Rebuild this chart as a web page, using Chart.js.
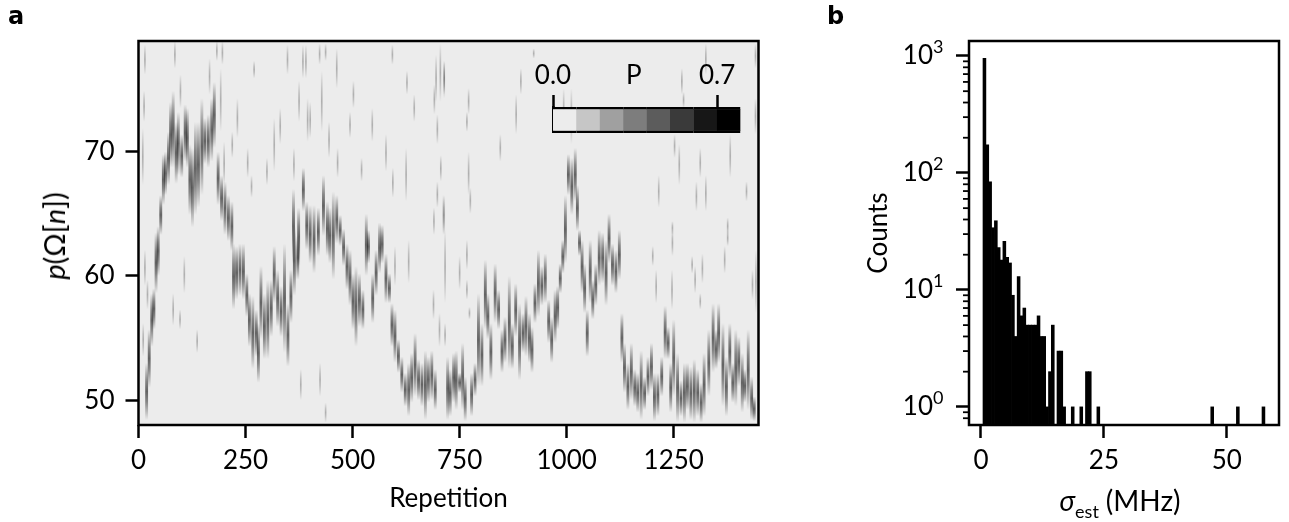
<!DOCTYPE html>
<html>
<head>
<meta charset="utf-8">
<script src="https://cdn.jsdelivr.net/npm/chart.js@4"></script>
<style>
  html, body { margin: 0; padding: 0; background: #fff; }
  body { width: 1289px; height: 522px; position: relative; overflow: hidden; font-family: Lato, sans-serif; color: #000; }
  canvas { position: absolute; }
  .label { position: absolute; white-space: nowrap; font-size: 28px; line-height: 30px; }
  .panel { font-family: "DejaVu Sans", sans-serif; font-weight: bold; font-size: 24px; }
  .label sub { font-size: 18px; line-height: 0; }
</style>
</head>
<body>
<canvas id="chartA" width="800" height="522" style="left:0;top:0"></canvas>
<canvas id="chartB" width="489" height="522" style="left:800px;top:0"></canvas>
<canvas id="chartBar" width="240" height="78" style="left:530px;top:55px"></canvas>
<div class="label panel" style="left:8px;top:1px">a</div>
<div class="label panel" style="left:827px;top:1px">b</div>
<div class="label" id="labelP" style="left:54px;top:236px;font-size:29px;transform:translate(-50%,-50%) rotate(-90deg)"><i>p</i>(Ω[<i>n</i>])</div>
<div class="label" id="labelSigma" style="left:1120px;top:500px;transform:translate(-50%,-50%)"><i>σ</i><sub>est</sub><span style="margin-left:7px">(MHz)</span></div>
<script>
// panel a: the bright ridge, one needle per entry (repetition, top and bottom of the streak in p)
var ridgeRep = [19,25,31,36,41,46,52,58,63,70,75,81,88,93,101,109,114,120,126,133,140,148,155,163,171,177,186,194,202,210,218,222,229,237,245,253,259,267,275,280,286,294,302,310,317,325,333,341,349,356,362,364,372,374,385,393,401,410,420,432,441,447,455,463,471,479,487,494,501,508,516,524,532,537,547,555,563,569,578,586,592,599,607,615,623,631,638,646,654,662,670,677,685,693,722,728,736,742,750,757,763,778,786,794,802,810,816,823,833,841,849,856,866,873,881,890,898,905,913,919,926,934,942,950,958,965,973,979,985,991,997,1004,1012,1020,1025,1030,1036,1042,1048,1055,1061,1068,1076,1084,1092,1099,1107,1115,1123,1129,1135,1143,1151,1159,1166,1174,1182,1190,1198,1205,1213,1222,1230,1237,1243,1250,1259,1267,1275,1282,1290,1298,1306,1314,1321,1332,1342,1349,1355,1365,1373,1381,1388,1395,1402,1410,1416,1424,1432,1438];
var ridgeTop = [53,55.7,58.6,59,63.5,64,66.5,69.8,70,71.6,74,74.9,72.4,73.2,71.4,73.8,73.5,70.6,70.3,72.4,72.4,74.3,72.7,73,74.3,75.6,70,68.1,67.6,66.5,66,62.6,62.4,62.6,62.6,60.2,58.6,58.4,57.3,56.2,60.8,58.6,59.7,59.7,62.4,60.5,59.2,62.6,57.8,60.5,67,64,63.2,65.5,68.7,66,65.7,65.7,65.5,68.1,66,65.5,66.8,66.5,64.9,63.8,62.6,62.1,60.2,60.8,60.2,58.9,65,63.7,60.2,62.1,64.3,64.1,61.8,60.2,57.8,57.3,54.9,53.5,52.2,53,53.8,55.4,53.3,53,54,53.5,54,52.5,53.5,52.5,53.8,54,52.2,54.6,51.9,52.2,53,58.6,56.2,61.3,58.6,56.2,61,58.9,55.7,56.7,60,56.2,59.4,57.8,57,58.4,57,55.9,59.4,62.1,60.8,61.8,58.1,56.7,58.9,59.2,61,62.9,66.5,69.8,69.5,70.3,67.3,63.7,62.9,61,57.3,62.9,59.7,61,63.7,63.5,62.9,65,62.6,62.1,63.7,57,54.6,53,54.6,52.5,52.2,54,51.9,53.5,54.6,52.2,52.2,53.5,57.6,55.9,53,56.5,53.8,51.6,53,53,52.7,53.3,52.5,51.4,53.8,55.7,57.8,55.7,57.8,56.2,53.5,56.2,53,55.7,55.1,53.8,52.5,55.7,51.9,50.3];
var ridgeBottom = [48.4,51,54.3,55.7,58.6,60,63.3,65.7,66.5,67.3,68.7,68.7,67.4,68.1,67.9,69.2,68.7,64.9,63.9,64.9,65.5,66.5,69,68.7,69.2,70.3,65.7,64.4,63.3,62.8,62,57.3,58.1,58.4,58.1,56.7,54.3,52.5,53.5,51.4,54.9,53.3,53.3,55.1,57.8,55.9,55.1,53.8,52.7,56.2,61,58.4,59.7,60.8,65.2,62.1,61,60.2,61.6,63.2,61.6,61,59.7,62.6,62.4,60.8,58.9,57.6,55.7,54.3,55.9,55.7,60,61,56.2,58.4,60.2,61,57.8,57.8,54.3,53,52.2,50.6,49.5,48.7,49.8,50.3,50,49.5,48.4,49.8,50,49.2,48.4,48.7,49.8,49.2,50.6,49.2,48.3,48.7,50.3,51.1,51.1,55.7,54.9,51.6,56.2,55.7,52.2,53,52.5,52.5,55.1,51.6,53.8,53.5,53,52.2,56.2,56.7,57.6,57.8,54.6,53,54.6,55.7,58.6,60.2,61,66.5,64.9,66,63.6,61.6,58.6,57,53.5,57.8,56.5,57.6,59.2,59.4,57.6,61,59.2,58.6,59.7,53,50.6,49.2,50,49.5,49,48.4,49.2,50.3,50.8,48.3,48.7,50.3,53.3,53.3,49,50.3,48.2,48.7,48.2,49.2,48.4,48.2,48.7,48.2,48.7,50.3,52.2,52.5,53,49.5,48.7,51.6,49.8,49.5,51.1,49,49.8,49.2,48.4,48.3];

// faint isolated streaks away from the ridge
var strayRep = [15,13,10,85,98,166,183,196,192,231,219,200,270,255,264,300,317,331,348,384,391,375,363,423,437,428,401,395,463,445,465,502,494,546,521,593,578,594,625,627,644,705,695,714,691,698,706,698,714,690,15,21,11,107,81,97,137,379,424,437,599,631,689,703,716,716,714,923,893,882,771,767,845,771,775,993,1011,712,1325,1441,1269,1273,1252,1263,1312,1382,1325,1303,1215,1420,1441,1376,1247,750,767,767,773,1201,1209,1246,1247,1300,1317,1293,1312,1369,1376,1434,1442];
var strayTop = [78.6,74.9,71.9,78.9,76.2,77.5,78.9,78.9,76.7,74.3,71.6,70.8,77.3,70.3,68.1,69.5,72.7,73.5,78.6,78.6,78.6,75.7,70.3,78.7,78.7,76.5,74,74.3,78.3,72.4,70.3,75.7,73.2,73.5,69.5,78.6,71.4,68.7,70.3,76.5,74.6,78.7,77.8,77.3,75.4,73,69.7,67.6,66.5,65.5,62.1,59.7,56.2,61.6,58.6,57.3,55.7,52.5,53,49.8,62.4,62.9,58.9,57,63.7,56.2,77.3,78.3,76.7,74.6,75.1,73.2,71.4,70,67.1,75.1,75.1,66.5,78.7,78.7,76.7,74.8,71.4,70.6,70.3,71.4,68.1,67.6,68.1,67.6,74.3,64.7,64.4,61.6,62.9,59.7,57.5,62.4,60.5,60.5,63.7,60.8,61.8,61.6,58.6,62.4,63.7,60.5,62.1];
var strayBottom = [76.2,72.4,67.3,76.7,73.5,74.6,77.3,77,71.6,71.1,69.5,67.3,75.9,67.9,66.3,67.3,68.4,70.6,76.2,75.9,75.9,72.4,67.6,77,77.3,71.6,71.1,70.8,75.1,69.5,67.9,73.5,71.1,70.8,67.6,77,68.4,66.3,66,74.6,72.4,74,74,74.6,73,70.6,67.6,65.5,63.3,63.3,59.2,57.3,53.5,58.6,56,55.7,53.8,50,50.3,48.2,59.2,59.4,56.5,54.3,57.8,54.3,74.3,77.5,74.6,71.4,73,71.6,69.2,66.5,65,71.4,70.6,63.3,76.2,76.7,74.6,73.5,69.5,67.3,67.9,67.9,65.2,65.2,65.5,66,71.4,63.3,63.3,58.9,60.5,58.1,56.5,60.8,57.8,57.3,61.6,58.6,59.4,60.2,57.3,60.2,62.4,58.1,57];

var repTicks = [0,250,500,750,1000,1250];
var pTicks = [50,60,70];

// panel a colour key
var keyLevels = [0.05,0.15,0.25,0.35,0.45,0.55,0.65,0.75];
var keyShades = ['#ececec','#c6c6c6','#a0a0a0','#7d7d7d','#5c5c5c','#3a3a3a','#171717','#000000'];
var keyTicks = [0,0.345,0.7];
var keyTickLabels = ['0.0','P','0.7'];

// panel b histogram, empty bins left out
var sigmaBins = [0.70,1.28,1.86,2.44,3.02,3.60,4.17,4.75,5.33,5.91,6.49,7.07,7.65,8.23,8.81,9.39,9.96,10.54,11.12,11.70,12.28,12.86,13.44,14.02,14.60,15.75,16.33,16.91,18.65,20.39,21.54,22.12,23.86,47.02,52.23,57.44];
var binCounts = [955,174,84,34,39,23,18,26,19,17,9,4,13,6,7,5,5,5,5,6,4,4,1,2,5,3,3,1,1,1,2,2,1,1,1,1];
var sigmaTicks = [0,25,50];
var countMajorTicks = [1,10,100,1000];
var countMinorTicks = [0.8,0.9,2,3,4,5,6,7,8,9,20,30,40,50,60,70,80,90,200,300,400,500,600,700,800,900];
var countExponents = ['0','1','2','3'];

var FONT = { family: 'Lato, sans-serif', size: 26 };
var AXIS_W = 2.5;
var TICK_LEN = 13;

function toPoints(xs, tops, bottoms) {
    return xs.map(function (x, i) { return { x: x, y: [bottoms[i], tops[i]] }; });
}

// streak that fades out to both ends, with a broad dark middle
function streakFill(alpha) {
    return function (c) {
        if (!c.raw) return 'transparent';
        var y = c.chart.scales.y;
        var y0 = y.getPixelForValue(c.raw.y[1]);
        var y1 = y.getPixelForValue(c.raw.y[0]);
        if (!isFinite(y0) || !isFinite(y1)) return 'transparent';
        var g = c.chart.ctx.createLinearGradient(0, y0, 0, y1);
        g.addColorStop(0, 'rgba(0,0,0,0)');
        g.addColorStop(0.12, 'rgba(0,0,0,' + alpha * 0.3 + ')');
        g.addColorStop(0.32, 'rgba(0,0,0,' + alpha * 0.75 + ')');
        g.addColorStop(0.5, 'rgba(0,0,0,' + alpha + ')');
        g.addColorStop(0.68, 'rgba(0,0,0,' + alpha * 0.75 + ')');
        g.addColorStop(0.88, 'rgba(0,0,0,' + alpha * 0.3 + ')');
        g.addColorStop(1, 'rgba(0,0,0,0)');
        return g;
    };
}

function fixedTicks(values) {
    return function (scale) {
        scale.ticks = values.map(function (v) { return { value: v }; });
    };
}

function plainLabel(v) {
    return String(v);
}

// background of the image and the closed frame round the axes
var framePlugin = {
    id: 'frame',
    beforeDatasetsDraw: function (chart, args, opts) {
        if (!opts.fill) return;
        var a = chart.chartArea;
        chart.ctx.fillStyle = opts.fill;
        chart.ctx.fillRect(a.left, a.top, a.right - a.left, a.bottom - a.top);
    },
    afterDraw: function (chart) {
        var a = chart.chartArea, ctx = chart.ctx;
        ctx.save();
        ctx.strokeStyle = '#000';
        ctx.lineWidth = AXIS_W;
        ctx.strokeRect(a.left, a.top, a.right - a.left, a.bottom - a.top);
        ctx.restore();
    }
};

// log axis: short minor ticks and the exponents next to the "10" labels
var logAxisPlugin = {
    id: 'logAxis',
    afterDraw: function (chart) {
        var scale = chart.scales.y, ctx = chart.ctx;
        ctx.save();
        ctx.strokeStyle = '#000';
        ctx.lineWidth = 1.8;
        countMinorTicks.forEach(function (v) {
            var y = scale.getPixelForValue(v);
            ctx.beginPath();
            ctx.moveTo(scale.right, y);
            ctx.lineTo(scale.right - 6, y);
            ctx.stroke();
        });
        ctx.fillStyle = '#000';
        ctx.font = '18px Lato, sans-serif';
        ctx.textAlign = 'left';
        ctx.textBaseline = 'alphabetic';
        countMajorTicks.forEach(function (v, i) {
            ctx.fillText(countExponents[i], scale.right - TICK_LEN - 23, scale.getPixelForValue(v) - 3);
        });
        ctx.restore();
    }
};

new Chart(document.getElementById('chartA'), {
    type: 'bar',
    plugins: [framePlugin],
    data: {
        datasets: [
            { data: toPoints(strayRep, strayTop, strayBottom), grouped: false, barThickness: 1, backgroundColor: streakFill(0.26) },
            { data: toPoints(ridgeRep, ridgeTop, ridgeBottom), grouped: false, barThickness: 2.2, backgroundColor: streakFill(0.58) }
        ]
    },
    options: {
        responsive: false,
        animation: false,
        events: [],
        layout: { padding: { top: 41, right: 41.5 } },
        plugins: { legend: { display: false }, tooltip: { enabled: false }, frame: { fill: '#ececec' } },
        scales: {
            x: {
                type: 'linear', min: 0, max: 1448, offset: false,
                afterBuildTicks: fixedTicks(repTicks),
                afterFit: function (s) { s.height = 97; },
                grid: { offset: false, drawOnChartArea: false, tickLength: TICK_LEN, tickWidth: AXIS_W, tickColor: '#000' },
                border: { display: false },
                ticks: { color: '#000', font: FONT, padding: 7, maxRotation: 0, callback: plainLabel },
                title: { display: true, text: 'Repetition', color: '#000', font: FONT, padding: { bottom: 8 } }
            },
            y: {
                min: 48, max: 78.9,
                afterBuildTicks: fixedTicks(pTicks),
                afterFit: function (s) { s.width = 138.5; },
                grid: { drawOnChartArea: false, tickLength: TICK_LEN, tickWidth: AXIS_W, tickColor: '#000' },
                border: { display: false },
                ticks: { color: '#000', font: FONT, padding: 11 }
            }
        }
    }
});

new Chart(document.getElementById('chartB'), {
    type: 'bar',
    plugins: [framePlugin, logAxisPlugin],
    data: {
        datasets: [{
            data: sigmaBins.map(function (x, i) { return { x: x, y: binCounts[i] }; }),
            barThickness: 2.9,
            backgroundColor: '#000'
        }]
    },
    options: {
        responsive: false,
        animation: false,
        events: [],
        layout: { padding: { top: 41, right: 10 } },
        plugins: { legend: { display: false }, tooltip: { enabled: false } },
        scales: {
            x: {
                type: 'linear', min: -2.44, max: 60.6, offset: false,
                afterBuildTicks: fixedTicks(sigmaTicks),
                afterFit: function (s) { s.height = 97; },
                grid: { offset: false, drawOnChartArea: false, tickLength: TICK_LEN, tickWidth: AXIS_W, tickColor: '#000' },
                border: { display: false },
                ticks: { color: '#000', font: FONT, padding: 7, maxRotation: 0, callback: plainLabel }
            },
            y: {
                type: 'logarithmic', min: 0.716, max: 1343,
                afterBuildTicks: fixedTicks(countMajorTicks),
                afterFit: function (s) { s.width = 169; },
                grid: { drawOnChartArea: false, tickLength: TICK_LEN, tickWidth: AXIS_W, tickColor: '#000' },
                border: { display: false },
                ticks: {
                    color: '#000', font: FONT, padding: 23, autoSkip: false,
                    callback: function () { return '10'; }
                },
                title: { display: true, text: 'Counts', color: '#000', font: FONT, padding: { top: 63 } }
            }
        }
    }
});

new Chart(document.getElementById('chartBar'), {
    type: 'bar',
    data: {
        datasets: [{
            data: keyLevels.map(function (x) { return { x: x, y: 1 }; }),
            barThickness: 23.8,
            backgroundColor: keyShades,
            borderColor: '#000',
            borderWidth: { top: 2.5, bottom: 2.5, left: 0, right: 0 },
            borderSkipped: false
        }]
    },
    options: {
        responsive: false,
        animation: false,
        events: [],
        layout: { padding: { right: 29.5 } },
        plugins: { legend: { display: false }, tooltip: { enabled: false } },
        scales: {
            x: {
                type: 'linear', position: 'top', min: 0, max: 0.8, offset: false,
                afterBuildTicks: fixedTicks(keyTicks),
                afterFit: function (s) { s.height = 52; },
                grid: {
                    offset: false, drawOnChartArea: false, tickLength: 12, tickWidth: AXIS_W,
                    tickColor: function (c) { return c.index === 1 ? 'transparent' : '#000'; }
                },
                border: { display: false },
                ticks: {
                    color: '#000', font: FONT, padding: 4, maxRotation: 0,
                    callback: function (v, i) { return keyTickLabels[i]; }
                }
            },
            y: {
                min: 0, max: 1,
                afterFit: function (s) { s.width = 23; },
                grid: { display: false },
                border: { display: true, color: '#000', width: AXIS_W },
                ticks: { display: false }
            }
        }
    }
});
</script>
</body>
</html>
